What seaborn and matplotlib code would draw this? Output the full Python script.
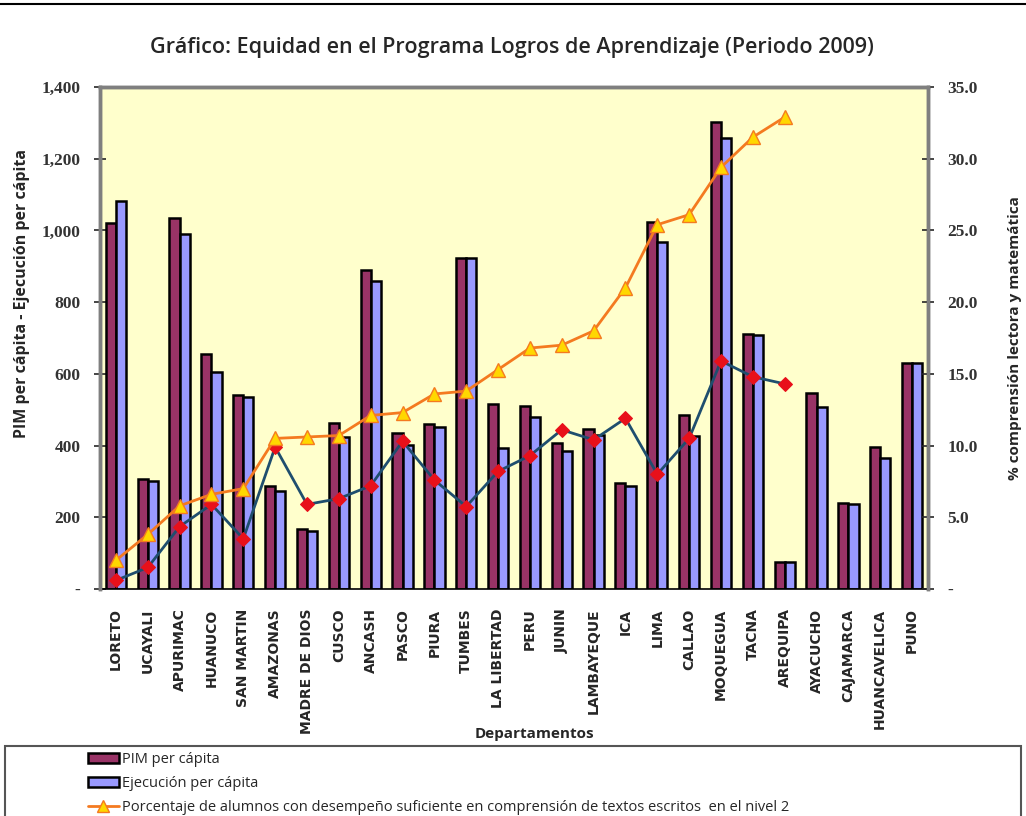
import numpy as np
import pandas as pd
import matplotlib
matplotlib.use("Agg")
import matplotlib.pyplot as plt
import matplotlib.patches as patches
from matplotlib.lines import Line2D
from matplotlib.ticker import FuncFormatter
import seaborn as sns

# ---------------------------------------------------------------
# Data
# ---------------------------------------------------------------
departamentos = ["LORETO", "UCAYALI", "APURIMAC", "HUANUCO", "SAN MARTIN", "AMAZONAS",
                 "MADRE DE DIOS", "CUSCO", "ANCASH", "PASCO", "PIURA", "TUMBES",
                 "LA LIBERTAD", "PERU", "JUNIN", "LAMBAYEQUE", "ICA", "LIMA", "CALLAO",
                 "MOQUEGUA", "TACNA", "AREQUIPA", "AYACUCHO", "CAJAMARCA",
                 "HUANCAVELICA", "PUNO"]
pim = [1020, 306, 1036, 654, 542, 288, 168, 463, 891, 435, 460, 922, 516, 509,
       407, 447, 295, 1023, 484, 1303, 710, 76, 547, 241, 395, 629]
ejecucion = [1082, 300, 989, 604, 535, 272, 162, 425, 860, 402, 453, 922, 393, 481,
             385, 430, 288, 967, 428, 1259, 707, 76, 507, 237, 365, 629]
# % comprensión lectora (first 22 departments only)
comprension = [2.0, 3.8, 5.8, 6.6, 7.0, 10.5, 10.6, 10.7, 12.1, 12.3, 13.6, 13.8,
               15.3, 16.8, 17.0, 18.0, 21.0, 25.4, 26.1, 29.4, 31.5, 32.9]
# % matemática (first 22 departments only)
matematica = [0.6, 1.5, 4.35, 5.9, 3.5, 9.9, 5.9, 6.3, 7.2, 10.3, 7.6, 5.75,
              8.2, 9.3, 11.1, 10.4, 11.9, 8.0, 10.5, 15.9, 14.8, 14.3]

df = pd.DataFrame({
    "Departamento": departamentos * 2,
    "valor": pim + ejecucion,
    "serie": ["PIM per cápita"] * len(pim) + ["Ejecución per cápita"] * len(ejecucion),
})

# ---------------------------------------------------------------
# Style
# ---------------------------------------------------------------
sns.set_style("white")
plt.rcParams["font.family"] = ["Open Sans", "DejaVu Sans"]

c_pim = "#993366"
c_eje = "#9999FF"
c_orange = "#F47A20"
c_navy = "#1F4E6E"

fig = plt.figure(figsize=(10.26, 8.16), dpi=100, facecolor="white")
ax = fig.add_axes([100 / 1026, 1 - 589 / 816, 828 / 1026, 502 / 816])
ax.set_facecolor("#FFFFCC")

sns.barplot(data=df, x="Departamento", y="valor", hue="serie",
            palette=[c_pim, c_eje], width=0.64, edgecolor="black", linewidth=1.8,
            ax=ax, legend=False, saturation=1)

ax.set_xlim(-0.5, len(departamentos) - 0.5)
ax.set_ylim(0, 1400)
ax.set_yticks(np.arange(0, 1401, 200))
ax.yaxis.set_major_formatter(FuncFormatter(lambda v, p: "-" if v == 0 else f"{v:,.0f}"))
ax.set_xticks(np.arange(len(departamentos) + 1) - 0.5, minor=True)
ax.tick_params(axis="x", which="major", length=0, rotation=90, labelsize=10, pad=14)
ax.tick_params(axis="x", which="minor", length=8, direction="inout", width=1.2)
ax.tick_params(axis="y", length=8, direction="inout", width=1.2, labelsize=12.5, pad=10)
for lab in ax.get_xticklabels():
    lab.set_family(["DejaVu Sans"])
    lab.set_fontweight("bold")
for lab in ax.get_yticklabels():
    lab.set_family(["Liberation Serif"])
    lab.set_fontweight("bold")
    lab.set_color("#333333")

ax.set_xlabel("Departamentos", fontsize=11, fontweight="bold")
ax.xaxis.set_label_coords(0.525, -0.275)
ax.set_ylabel("PIM per cápita - Ejecución per cápita", fontsize=11.5, fontweight="bold")
ax.yaxis.set_label_coords(-70 / 828, 0.588)

for side in ["top", "left", "right"]:
    ax.spines[side].set_color("#7f7f7f")
    ax.spines[side].set_linewidth(2.5)
ax.spines["bottom"].set_color("black")
ax.spines["bottom"].set_linewidth(1.2)

# Secondary axis with the two percentage lines
ax2 = ax.twinx()
x_idx = np.arange(len(comprension))
sns.lineplot(x=x_idx, y=matematica, ax=ax2, color=c_navy, linewidth=2,
             marker="D", markersize=7, markerfacecolor="#E8101A",
             markeredgecolor="#E8101A", legend=False)
sns.lineplot(x=x_idx, y=comprension, ax=ax2, color=c_orange, linewidth=2,
             marker="^", markersize=10.5, markerfacecolor="#FFD700",
             markeredgecolor=c_orange, markeredgewidth=1, legend=False)
ax2.set_ylim(0, 35)
ax2.set_yticks(np.arange(0, 35.1, 5))
ax2.yaxis.set_major_formatter(FuncFormatter(lambda v, p: "-" if v == 0 else f"{v:.1f}"))
ax2.tick_params(axis="y", length=8, direction="inout", width=1.2, labelsize=12.5, pad=10)
for lab in ax2.get_yticklabels():
    lab.set_family(["Liberation Serif"])
    lab.set_fontweight("bold")
    lab.set_color("#333333")
ax2.set_ylabel("% comprensión lectora y matemática", fontsize=11, fontweight="bold")
ax2.yaxis.set_label_coords(1 + 80 / 828, 0.5)
for side in ["top", "left", "right"]:
    ax2.spines[side].set_color("#7f7f7f")
    ax2.spines[side].set_linewidth(2.5)
ax2.spines["bottom"].set_visible(False)
ax.set_xlim(-0.5, len(departamentos) - 0.5)

# Title
fig.text(512 / 1026, 1 - 47 / 816,
         "Gráfico: Equidad en el Programa Logros de Aprendizaje (Periodo 2009)",
         ha="center", va="center", fontsize=15.5, fontweight="semibold")

# Top rule of the outer frame
fig.add_artist(Line2D([0, 1], [1 - 4 / 816, 1 - 4 / 816], color="black", lw=1.5,
                      transform=fig.transFigure))

# Legend box (extends below the picture)
fig.add_artist(patches.Rectangle((5 / 1026, -0.05), 1016 / 1026, 0.05 + (816 - 746) / 816,
                                 transform=fig.transFigure, fill=False,
                                 edgecolor="#555555", lw=1.5))
handles = [
    patches.Patch(facecolor=c_pim, edgecolor="black", lw=1.8, label="PIM per cápita"),
    patches.Patch(facecolor=c_eje, edgecolor="black", lw=1.8, label="Ejecución per cápita"),
    Line2D([], [], color=c_orange, lw=2, marker="^", markersize=8,
           markerfacecolor="#FFD700", markeredgecolor=c_orange,
           label="Porcentaje de alumnos con desempeño suficiente en comprensión de textos escritos  en el nivel 2"),
]
fig.legend(handles=handles, loc="upper left", bbox_to_anchor=(88 / 1026, 1 - 752 / 816),
           frameon=False, fontsize=10.5, handlelength=2.1, handletextpad=0.25,
           labelspacing=0.62, borderaxespad=0, borderpad=0)

fig.savefig("out.png", dpi=100, facecolor="white")
